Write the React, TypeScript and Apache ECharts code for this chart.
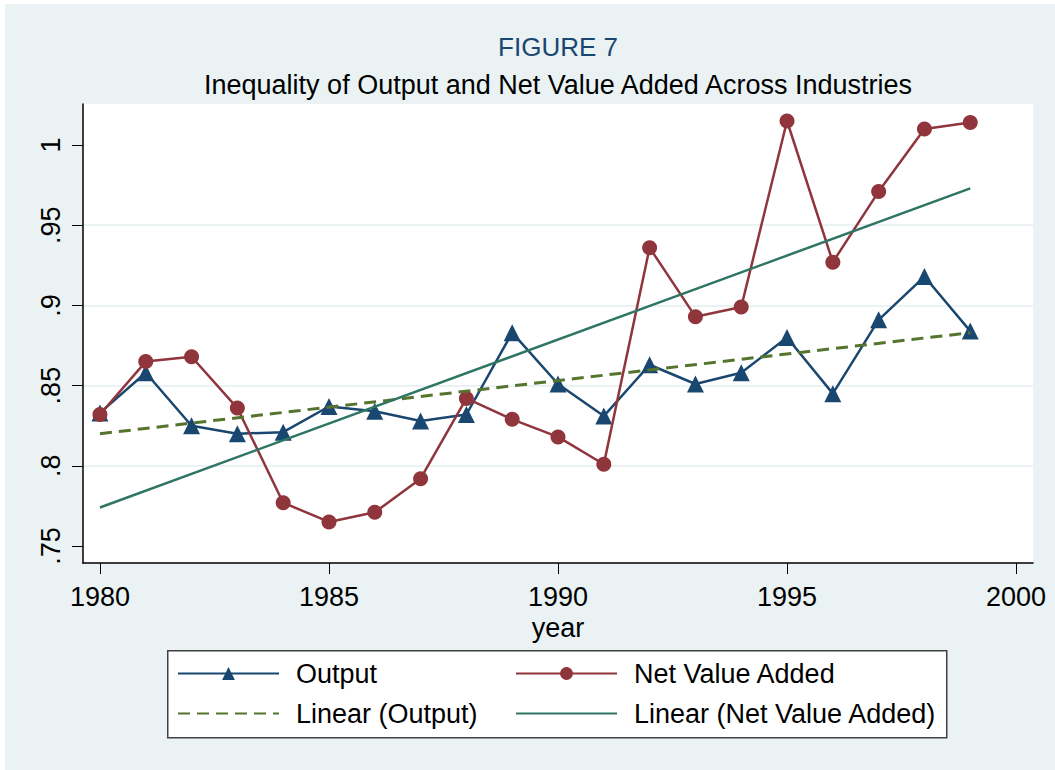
import React, { useEffect, useRef } from "react";
import * as echarts from "echarts";

const years = [1980, 1981, 1982, 1983, 1984, 1985, 1986, 1987, 1988, 1989, 1990, 1991, 1992, 1993, 1994, 1995, 1996, 1997, 1998, 1999];
const outputValues = [0.833, 0.858, 0.825, 0.820, 0.821, 0.837, 0.834, 0.828, 0.832, 0.883, 0.851, 0.831, 0.863, 0.851, 0.858, 0.880, 0.845, 0.891, 0.918, 0.884];
const nvaValues = [0.832, 0.865, 0.868, 0.836, 0.777, 0.765, 0.771, 0.792, 0.842, 0.829, 0.818, 0.801, 0.936, 0.893, 0.899, 1.015, 0.927, 0.971, 1.010, 1.014];
const trendYears = [1980, 1999];
const linearOutputValues = [0.820, 0.883];
const linearNvaValues = [0.774, 0.973];
const xTicks = [1980, 1985, 1990, 1995, 2000];
const yTicks = [0.75, 0.8, 0.85, 0.9, 0.95, 1];

const FONT = "'Liberation Sans', Arial, sans-serif";
const BG = "#eaf2f3";

function pairs(xs: number[], ys: number[]) {
  return xs.map((x, i) => [x, ys[i]]);
}

export default function App() {
  const ref = useRef<HTMLDivElement>(null);
  useEffect(() => {
    if (!ref.current) return;
    const chart = echarts.init(ref.current, null, { renderer: "svg" });
    const legendText = { color: "#000", fontSize: 27, lineHeight: 26, fontFamily: FONT, padding: [0, 0, 0, 12] };
    const option: any = {
      animation: false,
      backgroundColor: BG,
      textStyle: { fontFamily: FONT },
      grid: {
        left: 78,
        right: 22,
        top: 100,
        bottom: 207,
        show: false,
      },
      xAxis: {
        type: "value",
        min: 1979.63,
        max: 2000.37,
        name: "year",
        nameLocation: "middle",
        nameGap: 44,
        nameTextStyle: { color: "#000", fontSize: 27, fontFamily: FONT },
        axisLine: { show: true, onZero: false, lineStyle: { color: "#000", width: 1.5 } },
        axisTick: { show: true, length: 11, lineStyle: { color: "#000", width: 1 }, customValues: xTicks },
        axisLabel: { color: "#000", fontSize: 27, margin: 20, fontFamily: FONT, customValues: xTicks, formatter: (v: number) => String(v) },
        splitLine: { show: false, showMinLine: false, showMaxLine: false },
      },
      yAxis: {
        type: "value",
        min: 0.7394,
        max: 1.0256,
        axisLine: { show: true, onZero: false, lineStyle: { color: "#000", width: 1.5 } },
        axisTick: { show: true, length: 11, lineStyle: { color: "#000", width: 1 }, customValues: yTicks },
        axisLabel: {
          color: "#000",
          fontSize: 27,
          margin: 19,
          rotate: 90,
          fontFamily: FONT,
          customValues: yTicks,
          formatter: (v: number) => {
            const s = String(Math.round(v * 100) / 100);
            return s.startsWith("0") ? s.slice(1) : s;
          },
        },
        splitLine: { show: true, showMinLine: false, showMaxLine: false, lineStyle: { color: BG, width: 2 } },
      },
      legend: [
        {
          data: ["Output", { name: "Linear (Output)", itemStyle: { opacity: 0 } }],
          orient: "vertical",
          left: 172,
          top: 656,
          padding: 0,
          itemWidth: 101,
          itemHeight: 16,
          itemGap: 13,
          textStyle: legendText,
        },
        {
          data: ["Net Value Added", { name: "Linear (Net Value Added)", itemStyle: { opacity: 0 } }],
          orient: "vertical",
          left: 510,
          top: 656,
          padding: 0,
          itemWidth: 101,
          itemHeight: 16,
          itemGap: 13,
          textStyle: legendText,
        },
      ],
      graphic: [
        {
          type: "rect",
          left: 78,
          top: 100,
          shape: { width: 950, height: 459 },
          style: { fill: "#fff", stroke: "none", lineWidth: 0 },
          z: -10,
          silent: true,
        },
        {
          type: "text",
          x: 553,
          y: 43,
          style: {
            text: "FIGURE 7",
            fill: "#1a476f",
            font: `26px ${FONT}`,
            textAlign: "center",
            textVerticalAlign: "middle",
          },
          silent: true,
        },
        {
          type: "text",
          x: 553,
          y: 81,
          style: {
            text: "Inequality of Output and Net Value Added Across Industries",
            fill: "#000",
            font: `27px ${FONT}`,
            textAlign: "center",
            textVerticalAlign: "middle",
          },
          silent: true,
        },
        {
          type: "rect",
          left: 162,
          top: 646,
          shape: { width: 779, height: 87 },
          style: { fill: "#fff", stroke: "#404040", lineWidth: 1.5 },
          z: -1,
          silent: true,
        },
      ],
      series: [
        {
          name: "Output",
          type: "line",
          data: pairs(years, outputValues),
          symbol: "triangle",
          symbolSize: 17,
          lineStyle: { color: "#1a476f", width: 2.5 },
          itemStyle: { color: "#1a476f" },
          z: 2,
        },
        {
          name: "Net Value Added",
          type: "line",
          data: pairs(years, nvaValues),
          symbol: "circle",
          symbolSize: 15,
          lineStyle: { color: "#90353b", width: 2.5 },
          itemStyle: { color: "#90353b" },
          z: 3,
        },
        {
          name: "Linear (Output)",
          type: "line",
          data: pairs(trendYears, linearOutputValues),
          symbol: "none",
          lineStyle: { color: "#55752f", width: 3, type: [12, 7] },
          itemStyle: { color: "#55752f" },
          z: 4,
        },
        {
          name: "Linear (Net Value Added)",
          type: "line",
          data: pairs(trendYears, linearNvaValues),
          symbol: "none",
          lineStyle: { color: "#2e7564", width: 2.5 },
          itemStyle: { color: "#2e7564" },
          z: 5,
        },
      ],
    };
    chart.setOption(option);
    return () => chart.dispose();
  }, []);
  return (
    <div
      ref={ref}
      style={{ position: "absolute", left: 5, top: 4, width: 1050, height: 766 }}
    />
  );
}
